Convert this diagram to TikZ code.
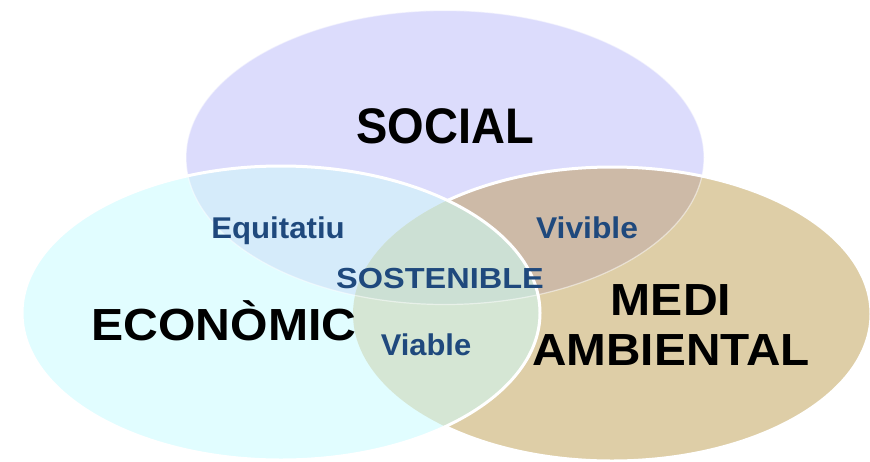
\documentclass[tikz,border=0pt]{standalone}
\usepackage{fontspec}
\setmainfont{Liberation Sans}

\definecolor{socialfill}{RGB}{220,220,252}
\definecolor{econfill}{RGB}{225,253,255}
\definecolor{medifill}{RGB}{222,206,167}
\definecolor{socecon}{RGB}{213,235,250}
\definecolor{socmedi}{RGB}{205,186,167}
\definecolor{econmedi}{RGB}{213,230,212}
\definecolor{allthree}{RGB}{204,224,212}
\definecolor{wordblue}{RGB}{31,73,125}

\newcommand{\stretchx}[2]{\scalebox{#1}[1]{#2}}

\begin{document}
\begin{tikzpicture}
      [%%%%%%%%%%%%%%%%%%%%%%%%%%%%%%
      x=1pt,y=-1pt,
      ring/.style={x radius=259pt, y radius=147pt},
      rim/.style={draw=white, line width=3pt},
      bigword/.style={font=\bfseries\fontsize{45}{45}\selectfont, inner sep=0pt, anchor=base},
      smallword/.style={font=\bfseries\fontsize{30}{30}\selectfont, text=wordblue, inner sep=0pt, anchor=base},
      ]%%%%%%%%%%%%%%%%%%%%%%%%%%%%%%

      \fill[white] (0,0) rectangle (870,461);
      \useasboundingbox (0,0) rectangle (870,461);

      \coordinate (soc) at (445,157.5);
      \coordinate (eco) at (281,313);
      \coordinate (med) at (612,314);

      % social and medi ambiental first
      \fill[socialfill] (soc) ellipse [ring];
      \fill[medifill] (med) ellipse [ring];
      \begin{scope}
        \clip (soc) ellipse [ring];
        \fill[socmedi] (med) ellipse [ring];
      \end{scope}
      \draw[rim] (med) ellipse [ring];

      % economic on top
      \begin{scope}
        \clip (eco) ellipse [ring];
        \fill[econfill] (eco) ellipse [ring];
        \fill[socecon] (soc) ellipse [ring];
        \fill[econmedi] (med) ellipse [ring];
        \clip (soc) ellipse [ring];
        \fill[allthree] (med) ellipse [ring];
      \end{scope}
      \draw[rim, line width=1.2pt, draw opacity=0.5] (soc) ellipse [ring];
      \draw[rim] (eco) ellipse [ring];

      \node[bigword, font=\bfseries\fontsize{50}{50}\selectfont] (social) at (445,143) {\stretchx{0.94}{SOCIAL}};
      \node[bigword] (economic) at (224,340) {\stretchx{1.07}{ECONÒMIC}};
      \node[bigword] (medi) at (671,315) {\stretchx{1.07}{MEDI}};
      \node[bigword] (ambiental) at (671,365) {\stretchx{1.06}{AMBIENTAL}};

      \node[smallword] (equitatiu) at (278,238) {\stretchx{1.04}{Equitatiu}};
      \node[smallword] (vivible) at (587,238) {\stretchx{1.06}{Vivible}};
      \node[smallword] (viable) at (426,355) {\stretchx{1.03}{Viable}};
      \node[smallword, font=\bfseries\fontsize{29}{29}\selectfont] (sostenible) at (440,288) {\stretchx{1.12}{SOSTENIBLE}};
    \end{tikzpicture}
\end{document}
